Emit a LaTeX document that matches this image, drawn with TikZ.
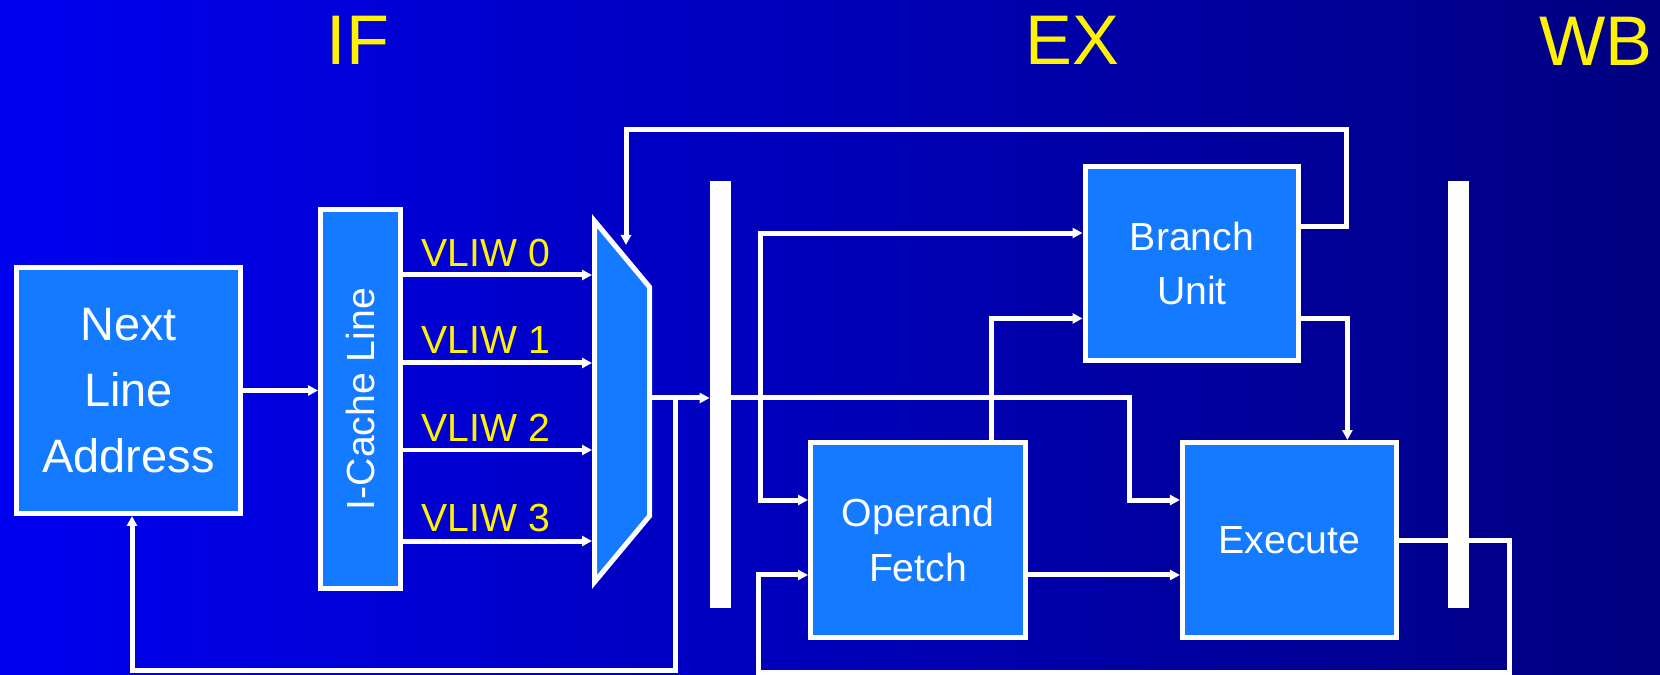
\documentclass[tikz,border=0pt]{standalone}
\usepackage{fontspec}
\setmainfont{Liberation Sans}
\usepackage{graphicx}
\usetikzlibrary{positioning, arrows.meta}

\definecolor{bgleft}{RGB}{0,0,240}
\definecolor{bgright}{RGB}{0,0,128}
\definecolor{unitblue}{RGB}{20,122,255}

\begin{document}
\begin{tikzpicture}[
    x=0.02cm, y=-0.02cm,
    >={Triangle[length=0.2cm,width=0.2cm]},
    wire/.style={draw=white, line width=0.1cm},
    unit/.style={draw=white, line width=0.1cm, fill=unitblue, text=white, align=center,
        minimum width=4.28cm, minimum height=3.9cm, font=\fontsize{22.3}{31.2}\selectfont},
    pipereg/.style={fill=white, inner sep=0pt, minimum width=0.42cm, minimum height=8.54cm},
    vliw/.style={text=yellow, inner sep=0pt, anchor=base west, font=\fontsize{22.3}{26}\selectfont},
    stage/.style={text=yellow, anchor=base, font=\fontsize{40}{48}\selectfont},
]

% background
\useasboundingbox (0,0) rectangle (1660,675);
\shade[left color=bgleft, right color=bgright] (0,0) rectangle (1660,675);

% stage titles
\node[stage] (ifstage) at (358,65) {IF};
\node[stage] (exstage) at (1072,65) {EX};
\node[stage] (wbstage) at (1596,66) {WB};

% fetch side
\node[unit, minimum width=4.48cm, minimum height=4.92cm,
      font=\fontsize{26.7}{37.7}\selectfont] (nla) at (128.5,390.5) {Next\\Line\\Address};
\node[unit, minimum width=1.6cm, minimum height=7.58cm] (icache) at (360.5,399) {\rotatebox{90}{I-Cache Line}};

% multiplexer
\coordinate (muxtl) at (594.5,221);
\coordinate (muxtr) at (649.5,287);
\coordinate (muxbr) at (649.5,516);
\coordinate (muxbl) at (594.5,582);
\draw[wire, fill=unitblue] (muxtl) -- (muxtr) -- (muxbr) -- (muxbl) -- cycle;
\coordinate (in0) at (592,275);
\coordinate (in1) at (592,363);
\coordinate (in2) at (592,450);
\coordinate (in3) at (592,541);
\coordinate (muxsel) at (626,245);
\coordinate (muxout) at (649.5,398);

% pipeline registers
\node[pipereg] (reg1) at (720.5,394.5) {};
\node[pipereg] (reg2) at (1458.5,394.5) {};

% execute side
\node[unit] (branch) at (1192,263.5) {Branch\\Unit};
\node[unit, minimum width=4.3cm] (fetch) at (918,540) {Operand\\Fetch};
\node[unit, right=3.04cm of fetch] (exec) {Execute};

% labels
\node[vliw] (lab0) at (421,267) {VLIW 0};
\node[vliw] (lab1) at (421,354) {VLIW 1};
\node[vliw] (lab2) at (421,441) {VLIW 2};
\node[vliw] (lab3) at (421,531) {VLIW 3};

% helper points
\coordinate (split) at (675,398);
\coordinate (fbbot1) at (675,670);
\coordinate (dist) at (760,398);
\coordinate (excorner) at (1129,398);
\coordinate (fbtop) at (1346,130);
\coordinate (fbbot2) at (1509,672);
\coordinate (fbbot3) at (758,672);

% connectors
\draw[wire,->] (nla.east) -- (nla.east -| icache.west);
\draw[wire,->] (icache.east |- in0) -- (in0);
\draw[wire,->] (icache.east |- in1) -- (in1);
\draw[wire,->] (icache.east |- in2) -- (in2);
\draw[wire,->] (icache.east |- in3) -- (in3);
\draw[wire,->] (muxout) -- (muxout -| reg1.west);
\draw[wire,->] (split) -- (fbbot1) -| ([xshift=0.07cm]nla.south);
\draw[wire,->] ([yshift=0.74cm]branch.east) -| (fbtop) -| (muxsel);
\draw[wire,->] (reg1.east |- muxout) -- (excorner) |- ([yshift=0.8cm]exec.west);
\draw[wire,->] (dist) |- ([yshift=0.61cm]branch.west);
\draw[wire,->] (dist) |- ([yshift=0.8cm]fetch.west);
\draw[wire,->] ([xshift=1.48cm]fetch.north) |- ([yshift=-1.1cm]branch.west);
\draw[wire,->] ([yshift=-0.7cm]fetch.east) -- ([yshift=-0.7cm]exec.west);
\draw[wire,->] ([yshift=-1.1cm]branch.east) -| ([xshift=1.16cm]exec.north);
\draw[wire,->] (exec.east) -| (fbbot2) -- (fbbot3) |- ([yshift=-0.7cm]fetch.west);
\end{tikzpicture}
\end{document}
